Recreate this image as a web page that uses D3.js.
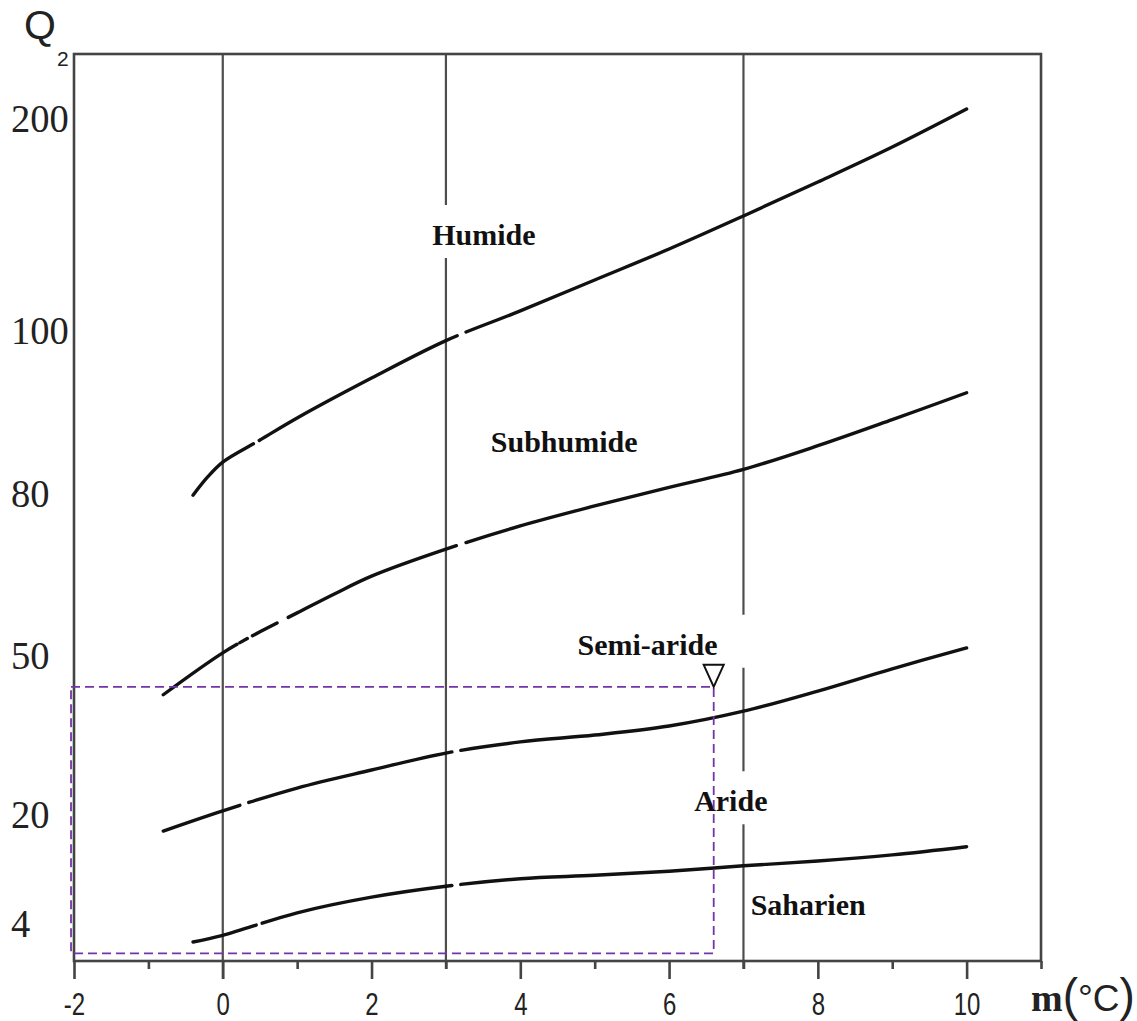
<!DOCTYPE html>
<html>
<head>
<meta charset="utf-8">
<script src="https://cdn.jsdelivr.net/npm/d3@7"></script>
<style>
  body { margin: 0; background: #fff; }
  svg { display: block; }
</style>
</head>
<body>
<svg id="chart" width="1137" height="1021"></svg>
<script>
// ---- Emberger climagram: Q2 against m (mean minimum of the coldest month) ----

// x axis: m in °C
const mTicks = [-2, -1, 0, 1, 2, 3, 4, 5, 6, 7, 8, 9, 10, 11];
const mLabels = [-2, 0, 2, 4, 6, 8, 10];
// y axis: Q2 values that are labelled
const q2Labels = [200, 100, 80, 50, 20, 4];
// winter variants: vertical separators at these m values
const winterLines = [0, 3, 7];

// limit Humide / Subhumide
const limitHumideM  = [-0.4, -0.2, 0, 0.5, 1, 2, 3, 4, 5, 6, 7, 8, 9, 10];
const limitHumideQ2 = [79.6, 82.0, 83.8, 86.5, 89.2, 94.1, 98.7, 109.0, 123.6, 138.2, 153.8, 169.8, 186.3, 204.2];
// limit Subhumide / Semi-aride
const limitSubhumideM  = [-0.8, 0, 0.5, 1, 1.5, 2, 3, 4, 5, 6, 7, 8, 9, 10];
const limitSubhumideQ2 = [42.5, 50.4, 54.3, 57.8, 61.3, 64.6, 69.6, 73.9, 77.6, 80.7, 82.9, 85.8, 89.0, 92.3];
// limit Semi-aride / Aride
const limitSemiarideM  = [-0.8, 0, 1, 2, 3, 4, 5, 6, 7, 8, 9, 10];
const limitSemiarideQ2 = [17.5, 20.6, 24.9, 28.3, 31.5, 33.6, 34.9, 36.6, 39.4, 43.2, 47.4, 51.3];
// limit Aride / Saharien
const limitArideM  = [-0.4, 0, 1, 2, 3, 4, 5, 6, 7, 8, 9, 10];
const limitArideQ2 = [2.0, 2.7, 5.5, 7.8, 9.4, 10.5, 11.0, 11.6, 12.4, 13.1, 14.0, 15.2];
// breaks along each limit (ranges of m where the trace is interrupted)
const limitBreaks = [
  [[0.41, 0.49], [3.15, 3.27]],
  [[0.19, 0.23], [0.33, 0.40], [0.73, 0.88], [3.14, 3.27]],
  [[0.23, 0.35], [3.08, 3.20]],
  [[0.45, 0.53], [3.08, 3.20]]
];

// bioclimatic stages
const stageNames = ["Humide", "Subhumide", "Semi-aride", "Aride", "Saharien"];
const stageM  = [3.51, 4.59, 5.71, 6.83, 7.87];
const stageQ2 = [144.8, 86.3, 51.9, 22.4, 6.6];

// highlighted zone and its marker
const zoneM  = [-2.04, 6.6];
const zoneQ2 = [0.8, 44.0];

// ---------------------------------------------------------------------------
const svg = d3.select("#chart");

const x = d3.scaleLinear().domain([-2, 11]).range([74, 1041]);
// the Q2 axis is not linear: piecewise scale through the labelled values
const y = d3.scaleLinear()
  .domain([0, 4, 20, 50, 80, 100, 200, 230])
  .range([961, 923, 814, 655, 493, 330, 118, 54]);

const plotLeft = x(-2), plotRight = x(11), plotTop = y(230), plotBottom = y(0);

// vertical separators
svg.append("g")
  .selectAll("line")
  .data(winterLines)
  .join("line")
  .attr("x1", d => x(d)).attr("x2", d => x(d))
  .attr("y1", plotTop).attr("y2", d => plotBottom + (d % 2 === 0 ? 18 : 8))
  .attr("stroke", "#4d4d4d").attr("stroke-width", 2.2);

// stage label backgrounds (cut the separators) and labels
const labelPad = [12, 12, 30, 12, 4];
const labels = svg.append("g");
const labelGroups = labels.selectAll("g")
  .data(stageNames.map((n, i) => ({ name: n, m: stageM[i], q: stageQ2[i], pad: labelPad[i] })))
  .join("g");
labelGroups.append("rect").attr("fill", "#fff");
labelGroups.append("text")
  .attr("x", d => x(d.m))
  .attr("y", d => y(d.q))
  .attr("dy", "0.33em")
  .attr("text-anchor", "middle")
  .attr("font-family", "'Liberation Serif', 'Times New Roman', serif")
  .attr("font-weight", "bold")
  .attr("font-size", 30)
  .attr("fill", "#111")
  .text(d => d.name);
labelGroups.each(function (d) {
  const g = d3.select(this);
  const b = g.select("text").node().getBBox();
  const cy = y(d.q);
  g.select("rect")
    .attr("x", b.x - d.pad).attr("width", b.width + 2 * d.pad)
    .attr("y", cy - 30).attr("height", 53);
});

// limit curves
const line = d3.line()
  .x(d => x(d[0]))
  .y(d => y(d[1]))
  .curve(d3.curveCatmullRom.alpha(0.5));

const limits = [
  d3.zip(limitHumideM, limitHumideQ2),
  d3.zip(limitSubhumideM, limitSubhumideQ2),
  d3.zip(limitSemiarideM, limitSemiarideQ2),
  d3.zip(limitArideM, limitArideQ2)
];

function lengthAtX(node, px) {
  let lo = 0, hi = node.getTotalLength();
  for (let i = 0; i < 40; i++) {
    const mid = (lo + hi) / 2;
    if (node.getPointAtLength(mid).x < px) lo = mid; else hi = mid;
  }
  return lo;
}

svg.append("g")
  .selectAll("path")
  .data(limits)
  .join("path")
  .attr("d", line)
  .attr("fill", "none")
  .attr("stroke", "#111")
  .attr("stroke-width", 3.4)
  .attr("stroke-linecap", "round")
  .each(function (d, i) {
    const L = this.getTotalLength();
    const dash = [];
    let pos = 0;
    limitBreaks[i].forEach(([a, b]) => {
      const s = lengthAtX(this, x(a)), e = lengthAtX(this, x(b));
      dash.push(Math.max(0, s - pos), e - s);
      pos = e;
    });
    dash.push(L - pos + 5, 2000);
    d3.select(this).attr("stroke-dasharray", dash.join(","));
  });

// frame
svg.append("rect")
  .attr("x", plotLeft).attr("y", plotTop)
  .attr("width", plotRight - plotLeft).attr("height", plotBottom - plotTop)
  .attr("fill", "none").attr("stroke", "#444").attr("stroke-width", 2.6);

// x axis: major and minor ticks
const xMajor = d3.axisBottom(x).tickValues(mLabels).tickSize(18).tickSizeOuter(0)
  .tickFormat(d3.format("d"));
const xMinor = d3.axisBottom(x).tickValues(mTicks.filter(v => mLabels.indexOf(v) < 0))
  .tickSize(8).tickSizeOuter(0).tickFormat("");

const gMinor = svg.append("g").attr("transform", `translate(0,${plotBottom})`).call(xMinor);
const gMajor = svg.append("g").attr("transform", `translate(0,${plotBottom})`).call(xMajor);
[gMinor, gMajor].forEach(g => {
  g.select(".domain").remove();
  g.selectAll(".tick line").attr("stroke", "#444").attr("stroke-width", 2.6);
});
gMajor.selectAll(".tick text")
  .attr("y", 54).attr("dy", null)
  .attr("font-family", "'Liberation Sans', Arial, sans-serif")
  .attr("font-size", 32)
  .attr("fill", "#222")
  .attr("transform", "scale(0.75,1)")
  .text(d => d < 0 ? "-" + Math.abs(d) : d);

// y axis labels (no tick marks)
const yAxis = d3.axisLeft(y).tickValues(q2Labels).tickSize(0).tickFormat(d3.format("d"));
const gY = svg.append("g").attr("transform", `translate(${plotLeft},0)`).call(yAxis);
gY.select(".domain").remove();
gY.selectAll(".tick text")
  .attr("x", 0).attr("dy", "0.34em")
  .attr("text-anchor", "start")
  .attr("transform", `translate(${11 - plotLeft},0) scale(0.94,1)`)
  .attr("font-family", "'Liberation Serif', 'Times New Roman', serif")
  .attr("font-size", 41)
  .attr("fill", "#222");

// axis titles
svg.append("text")
  .attr("x", 24).attr("y", 39)
  .attr("font-family", "'Liberation Sans', Arial, sans-serif")
  .attr("font-size", 41)
  .attr("fill", "#222")
  .text("Q");
svg.append("text")
  .attr("x", 57).attr("y", 66)
  .attr("font-family", "'Liberation Sans', Arial, sans-serif")
  .attr("font-size", 21)
  .attr("fill", "#222")
  .text("2");

const mTitle = svg.append("text")
  .attr("x", 1031).attr("y", 1011)
  .attr("fill", "#222");
mTitle.append("tspan")
  .attr("font-family", "'Liberation Serif', 'Times New Roman', serif")
  .attr("font-weight", "bold").attr("font-size", 38).text("m");
mTitle.append("tspan")
  .attr("font-family", "'Liberation Sans', Arial, sans-serif")
  .attr("font-size", 46).text("(");
mTitle.append("tspan")
  .attr("font-family", "'Liberation Sans', Arial, sans-serif")
  .attr("font-size", 37).text("°C");
mTitle.append("tspan")
  .attr("font-family", "'Liberation Sans', Arial, sans-serif")
  .attr("font-size", 46).text(")");

// highlighted zone
svg.append("rect")
  .attr("x", x(zoneM[0])).attr("y", y(zoneQ2[1]))
  .attr("width", x(zoneM[1]) - x(zoneM[0]))
  .attr("height", y(zoneQ2[0]) - y(zoneQ2[1]))
  .attr("fill", "none")
  .attr("stroke", "#7433a8").attr("stroke-width", 1.8)
  .attr("stroke-dasharray", "9,5");

// marker: open downward triangle resting on the zone corner
const tx = x(zoneM[1]), ty = y(zoneQ2[1]);
svg.append("path")
  .attr("d", `M${tx - 10},${ty - 22} L${tx + 10},${ty - 22} L${tx},${ty} Z`)
  .attr("fill", "#fff").attr("stroke", "#111").attr("stroke-width", 2);
</script>
</body>
</html>
